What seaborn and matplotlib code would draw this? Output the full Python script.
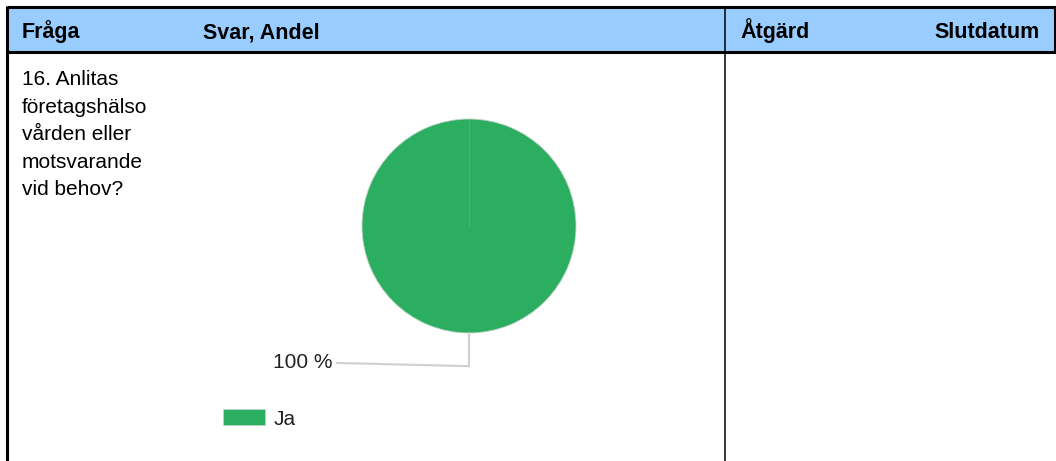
import numpy as np
import matplotlib
matplotlib.use("Agg")
from matplotlib import pyplot as plt
import seaborn as sns

# data
answers = ["Ja"]
shares = [100]
question_lines = ["16. Anlitas", "företagshälso", "vården eller", "motsvarande", "vid behov?"]
headers = ["Fråga", "Svar, Andel", "Åtgärd", "Slutdatum"]
header_x = [22, 203, 740, 934]

W, H = 1056, 461
GREEN = "#2BAE60"
BLUE = "#99CCFF"

sns.set_theme(style="white")
plt.rcParams["font.family"] = ["Liberation Sans", "DejaVu Sans"]

fig = plt.figure(figsize=(W / 100, H / 100), dpi=100)

# table frame in pixel coordinates
tab = fig.add_axes([0, 0, 1, 1])
tab.set_xlim(0, W)
tab.set_ylim(H, 0)
tab.axis("off")
tab.add_patch(plt.Rectangle((7, 7), 1049, 45, facecolor=BLUE, edgecolor="none", zorder=0))
tab.plot([7, 1056], [7, 7], color="black", lw=2.2, solid_capstyle="butt")
tab.plot([7, 1056], [52, 52], color="black", lw=2.2, solid_capstyle="butt")
tab.plot([7, 7], [6, H], color="black", lw=2.2, solid_capstyle="butt")
tab.plot([1055, 1055], [6, 53], color="black", lw=2.2, solid_capstyle="butt")
tab.plot([725, 725], [6, H], color="black", lw=1.1, solid_capstyle="butt")

for x, h in zip(header_x, headers):
    tab.text(x, 38, h, fontsize=15.5, fontweight="bold", ha="left", va="baseline", color="black")

for i, line in enumerate(question_lines):
    tab.text(22, 85 + i * 27.5, line, fontsize=15, ha="left", va="baseline", color="black")

# pie chart
cx, cy, r = 469, 226, 107
ax = fig.add_axes([(cx - r) / W, (H - cy - r) / H, 2 * r / W, 2 * r / H])
colors = sns.color_palette([GREEN], n_colors=len(shares))
wedges, _ = ax.pie(shares, colors=colors, startangle=90, counterclock=False,
                   wedgeprops=dict(edgecolor="#c0d4c6", linewidth=0.6))
ax.set_xlim(-1, 1)
ax.set_ylim(-1, 1)
ax.set_aspect("auto")

for w, s in zip(wedges, shares):
    # faint seam where the slice starts
    a0 = np.deg2rad(w.theta2)
    ax.plot([0, np.cos(a0)], [0, np.sin(a0)], color="#5fb57f", lw=0.8, alpha=0.6)
    ang = np.deg2rad((w.theta1 + w.theta2) / 2)
    x0, y0 = np.cos(ang), np.sin(ang)
    y1 = y0 - 0.31
    x2 = -1.235
    ax.plot([x0, x0, x2], [y0, y1, y1 + 0.03], color="#d0d0d0", lw=1.5, clip_on=False,
            solid_joinstyle="miter")
    ax.text(x2 - 0.04, y1 + 0.03, f"{s} %", fontsize=15, ha="right", va="center",
            color="#222222")

fig.legend(wedges, answers, loc="center left", bbox_to_anchor=(223 / W, 1 - 419 / H),
           frameon=False, fontsize=15, handlelength=2.0, handleheight=0.8,
           handletextpad=0.45, borderpad=0, borderaxespad=0, labelcolor="#222222")

fig.savefig("out.png", dpi=100)
